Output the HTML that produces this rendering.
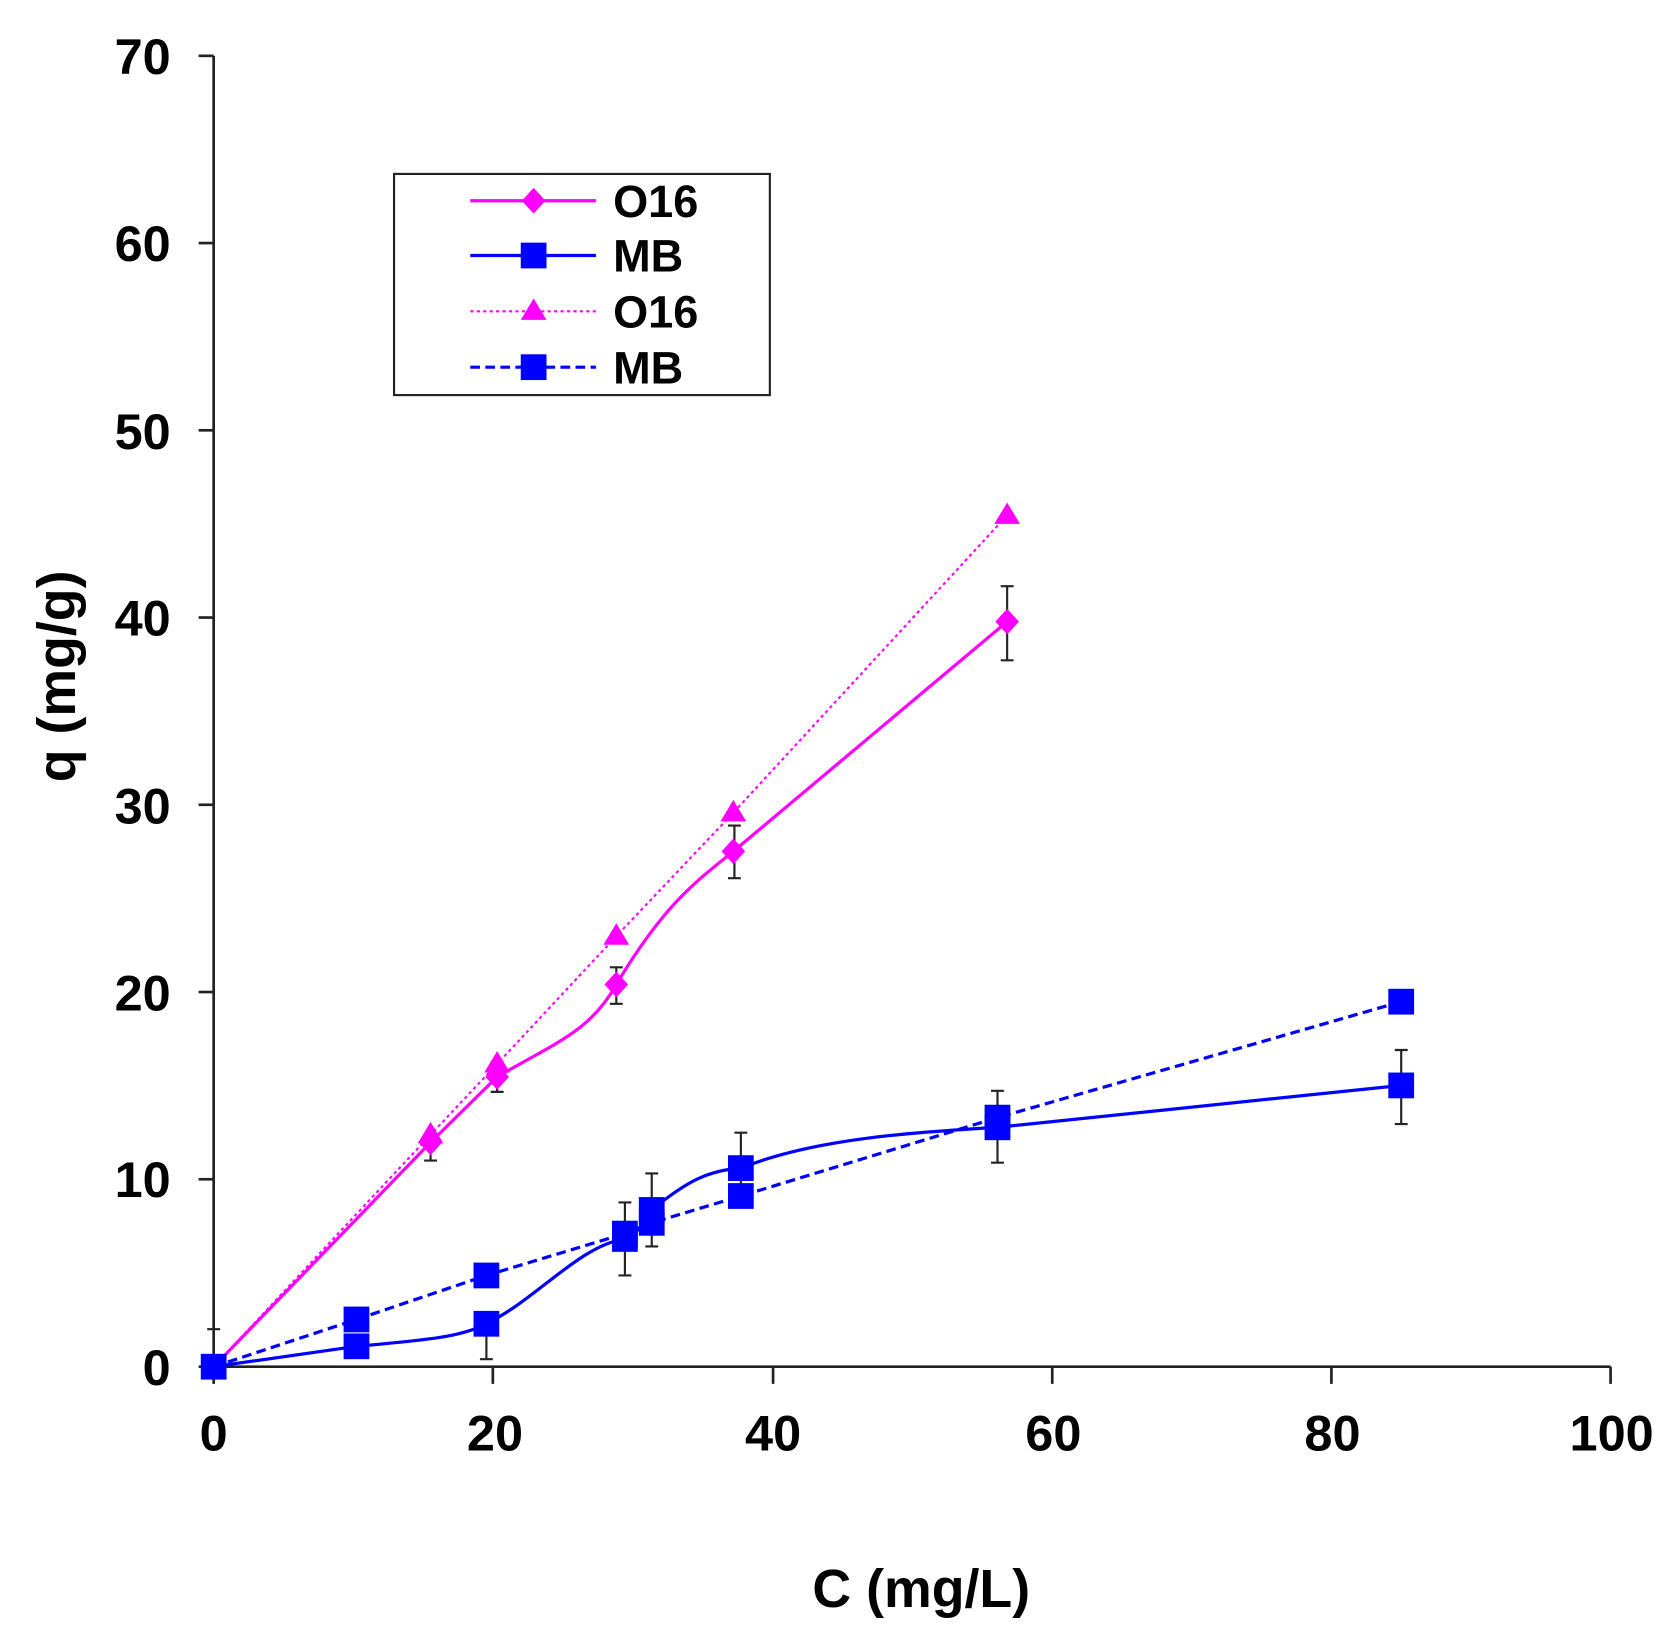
<!DOCTYPE html>
<html><head><meta charset="utf-8"><style>html,body{margin:0;padding:0;background:#fff}svg{display:block}</style></head>
<body>
<svg width="1675" height="1648" viewBox="0 0 1560 1535" preserveAspectRatio="none" xmlns="http://www.w3.org/2000/svg" font-family="Liberation Sans, Arial, sans-serif" font-weight="bold">
<g stroke="#222" stroke-width="2.5" fill="none">
<line x1="199" y1="52" x2="199" y2="1273"/>
<line x1="199" y1="1273" x2="1500" y2="1273"/>
<line x1="185" y1="52" x2="199" y2="52"/><line x1="185" y1="226.4" x2="199" y2="226.4"/><line x1="185" y1="400.8" x2="199" y2="400.8"/><line x1="185" y1="575.2" x2="199" y2="575.2"/><line x1="185" y1="749.6" x2="199" y2="749.6"/><line x1="185" y1="924" x2="199" y2="924"/><line x1="185" y1="1098.4" x2="199" y2="1098.4"/><line x1="185" y1="1273" x2="199" y2="1273"/>
<line x1="199" y1="1273" x2="199" y2="1289"/><line x1="459" y1="1273" x2="459" y2="1289"/><line x1="720" y1="1273" x2="720" y2="1289"/><line x1="980" y1="1273" x2="980" y2="1289"/><line x1="1240" y1="1273" x2="1240" y2="1289"/><line x1="1500" y1="1273" x2="1500" y2="1289"/>
</g>
<g font-size="47" text-anchor="end" fill="#000">
<text x="159" y="69">70</text><text x="159" y="243">60</text><text x="159" y="418">50</text><text x="159" y="592">40</text><text x="159" y="767">30</text><text x="159" y="941">20</text><text x="159" y="1115">10</text><text x="159" y="1290">0</text>
</g>
<g font-size="47" text-anchor="middle" fill="#000">
<text x="199" y="1351">0</text><text x="461" y="1351">20</text><text x="720" y="1351">40</text><text x="981" y="1351">60</text><text x="1241" y="1351">80</text><text x="1501" y="1351">100</text>
</g>
<text x="858" y="1497" font-size="50" text-anchor="middle">C (mg/L)</text>
<text transform="translate(70,630) rotate(-90)" font-size="50" text-anchor="middle">q (mg/g)</text>

<!-- error bars -->
<g stroke="#222" stroke-width="2" fill="none">
<path d="M401,1059V1081M395,1059H407M395,1081H407"/>
<path d="M463,989V1017M457,989H469M457,1017H469"/>
<path d="M574,901V935M568,901H580M568,935H580"/>
<path d="M684,769V818M678,769H690M678,818H690"/>
<path d="M938,546V615M932,546H944M932,615H944"/>
<path d="M199,1238V1273M193,1238H205"/>
<path d="M453,1231V1266M447,1231H459M447,1266H459"/>
<path d="M582,1120V1188M576,1120H588M576,1188H588"/>
<path d="M607,1093V1161M601,1093H613M601,1161H613"/>
<path d="M690,1055V1123M684,1055H696M684,1123H696"/>
<path d="M929,1016V1083M923,1016H935M923,1083H935"/>
<path d="M1305,978V1047M1299,978H1311M1299,1047H1311"/>
</g>

<!-- O16 dotted -->
<polyline points="199,1273 401,1057 463,991 574,872 683,757 938,480" fill="none" stroke="#ff00ff" stroke-width="2" stroke-dasharray="3,3"/>
<g fill="#ff00ff">
<path d="M401,1045l12,20h-24z"/><path d="M463,979l12,20h-24z"/><path d="M574,860l12,20h-24z"/><path d="M683,745l12,20h-24z"/><path d="M938,468l12,20h-24z"/>
</g>
<!-- O16 solid -->
<path d="M199,1273 L401,1064 L463,1003 C520,970 550,960 574,917 C620,840 650,820 683,793 L938,579" fill="none" stroke="#ff00ff" stroke-width="3"/>
<g fill="#ff00ff">
<path d="M401,1052l11,12-11,12-11-12z"/><path d="M463,991l11,12-11,12-11-12z"/><path d="M574,905l11,12-11,12-11-12z"/><path d="M683,781l11,12-11,12-11-12z"/><path d="M938,567l11,12-11,12-11-12z"/><path d="M199,1261l11,12-11,12-11-12z"/>
</g>

<!-- MB dashed -->
<polyline points="199,1273 332,1229 453,1188 582,1149 607,1139 690,1114 929,1041 1305,933" fill="none" stroke="#0000ff" stroke-width="3" stroke-dasharray="9,5"/>
<!-- MB solid -->
<path d="M199,1273 L332,1254 C400,1248 430,1245 453,1233 C500,1210 540,1160 582,1154 C595,1150 600,1135 607,1127 C640,1100 660,1090 690,1088 C760,1060 850,1055 929,1050 L1305,1011" fill="none" stroke="#0000ff" stroke-width="3"/>
<g fill="#0000ff">
<rect x="187" y="1261" width="24" height="24"/>
<rect x="320" y="1242" width="24" height="24"/><rect x="320" y="1217" width="24" height="24"/>
<rect x="441" y="1221" width="24" height="24"/><rect x="441" y="1176" width="24" height="24"/>
<rect x="570" y="1142" width="24" height="24"/><rect x="570" y="1137" width="24" height="24"/>
<rect x="595" y="1115" width="24" height="24"/><rect x="595" y="1127" width="24" height="24"/>
<rect x="678" y="1076" width="24" height="24"/><rect x="678" y="1102" width="24" height="24"/>
<rect x="917" y="1038" width="24" height="24"/><rect x="917" y="1029" width="24" height="24"/>
<rect x="1293" y="999" width="24" height="24"/><rect x="1293" y="921" width="24" height="24"/>
</g>

<!-- legend -->
<rect x="367" y="162" width="350" height="206" fill="#fff" stroke="#222" stroke-width="2"/>
<line x1="438" y1="187" x2="555" y2="187" stroke="#ff00ff" stroke-width="3"/>
<path d="M497,175l11,12-11,12-11-12z" fill="#ff00ff"/>
<line x1="438" y1="238" x2="555" y2="238" stroke="#0000ff" stroke-width="3"/>
<rect x="485" y="226" width="24" height="24" fill="#0000ff"/>
<line x1="438" y1="290" x2="555" y2="290" stroke="#ff00ff" stroke-width="2" stroke-dasharray="3,3"/>
<path d="M497,278l12,20h-24z" fill="#ff00ff"/>
<line x1="438" y1="342" x2="555" y2="342" stroke="#0000ff" stroke-width="3" stroke-dasharray="9,5"/>
<rect x="485" y="330" width="24" height="24" fill="#0000ff"/>
<g font-size="42" fill="#000">
<text x="571" y="202">O16</text><text x="571" y="253">MB</text><text x="571" y="305">O16</text><text x="571" y="357">MB</text>
</g>
</svg>
</body></html>
